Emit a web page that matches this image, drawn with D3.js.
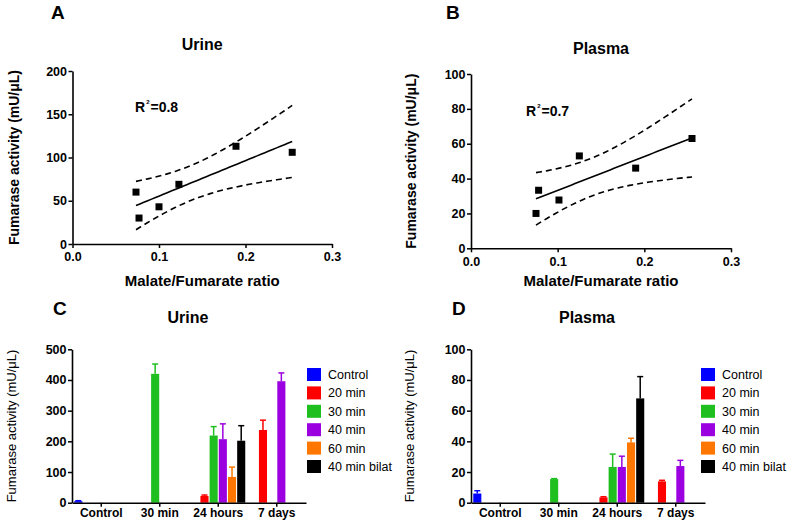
<!DOCTYPE html>
<html>
<head>
<meta charset="utf-8">
<script src="https://cdn.jsdelivr.net/npm/d3@7"></script>
<style>
  body { margin: 0; background: #fff; }
  text { font-family: "Liberation Sans", Arial, sans-serif; }
</style>
</head>
<body>
<div id="chart"></div>
<script>
// figure size
const width = 787;
const height = 523;

// scatter data
const urineRatio = [0.0734, 0.0769, 0.100, 0.123, 0.189, 0.254];
const urineActivity = [60, 30, 43, 69, 113, 106];
const plasmaRatio = [0.075, 0.078, 0.1015, 0.125, 0.190, 0.255];
const plasmaActivity = [20, 33.3, 27.7, 53, 46, 63];
const ratioTicks = [0.0, 0.1, 0.2, 0.3];

// bar data
const timepoints = ["Control", "30 min", "24 hours", "7 days"];
const groups = ["Control", "20 min", "30 min", "40 min", "60 min", "40 min bilat"];
const groupColors = ["#0000ff", "#ff0000", "#1fbf1f", "#9b00e0", "#ff7700", "#000000"];

// rows = timepoints, cols = groups (null = not measured)
const urineMeans = [
  [5, null, null, null, null, null],
  [null, null, 420, null, null, null],
  [null, 22, 219, 207, 84, 202],
  [null, 237, null, 396, null, null]
];
const urineErr = [
  [1.5, null, null, null, null, null],
  [null, null, 32, null, null, null],
  [null, 3, 29, 50, 32, 49],
  [null, 32, null, 27, null, null]
];
const plasmaMeans = [
  [6, null, null, null, null, null],
  [null, null, 15.4, null, null, null],
  [null, 3.5, 23.3, 23.3, 39.3, 68],
  [null, 13.9, null, 23.9, null, null]
];
const plasmaErr = [
  [1.8, null, null, null, null, null],
  [null, null, 0.3, null, null, null],
  [null, 0.4, 8.4, 7, 2.7, 14.2],
  [null, 0.7, null, 3.7, null, null]
];
const urineTicks = [0, 100, 200, 300, 400, 500];
const plasmaTicks = [0, 20, 40, 60, 80, 100];

const svg = d3.select("#chart")
  .append("svg")
  .attr("width", width)
  .attr("height", height);

// linear fit + 95% confidence band of the mean
function fit(xs, ys) {
  const n = xs.length;
  const mx = d3.mean(xs), my = d3.mean(ys);
  let sxx = 0, sxy = 0, syy = 0;
  for (let i = 0; i < n; i++) {
    sxx += (xs[i] - mx) ** 2;
    sxy += (xs[i] - mx) * (ys[i] - my);
    syy += (ys[i] - my) ** 2;
  }
  const slope = sxy / sxx;
  const icpt = my - slope * mx;
  const s = Math.sqrt((syy - slope * sxy) / (n - 2));
  const t = 2.776; // t(0.975, 4)
  return {
    f: x => icpt + slope * x,
    half: x => t * s * Math.sqrt(1 / n + (x - mx) ** 2 / sxx)
  };
}

function scatterPanel(o) {
  const x = d3.scaleLinear().domain([0, 0.3]).range([o.left, o.right]);
  const y = d3.scaleLinear().domain([0, o.ymax]).range([o.bottom, o.top]);
  const g = svg.append("g");

  g.append("g")
    .attr("transform", `translate(0,${o.bottom})`)
    .call(d3.axisBottom(x).tickValues(ratioTicks).tickFormat(d3.format(".1f")).tickSize(4).tickPadding(2).tickSizeOuter(0))
    .call(a => a.select(".domain").attr("stroke-width", 1.6))
    .call(a => a.selectAll(".tick line").attr("stroke-width", 1.5))
    .call(a => a.selectAll("text").attr("font-size", 12.5).attr("font-weight", "bold").attr("dy", "0.9em"));

  g.append("g")
    .attr("transform", `translate(${o.left},0)`)
    .call(d3.axisLeft(y).tickValues(o.yticks).tickSize(4).tickPadding(1.5).tickSizeOuter(0))
    .call(a => a.select(".domain").attr("stroke-width", 1.6))
    .call(a => a.selectAll(".tick line").attr("stroke-width", 1.5))
    .call(a => a.selectAll("text").attr("font-size", 12.5).attr("font-weight", "bold"));

  const fr = fit(o.xs, o.ys);
  const xr = d3.range(d3.min(o.xs), d3.max(o.xs) + 1e-9, (d3.max(o.xs) - d3.min(o.xs)) / 40);
  const line = d3.line().x(d => x(d[0])).y(d => y(d[1]));

  g.append("path")
    .attr("d", line(xr.map(v => [v, fr.f(v)])))
    .attr("fill", "none").attr("stroke", "#000").attr("stroke-width", 1.6);
  [1, -1].forEach(sg => {
    g.append("path")
      .attr("d", line(xr.map(v => [v, fr.f(v) + sg * fr.half(v)])))
      .attr("fill", "none").attr("stroke", "#000").attr("stroke-width", 1.6)
      .attr("stroke-dasharray", "6,4");
  });

  g.selectAll(".pt")
    .data(o.xs)
    .enter()
    .append("rect")
      .attr("x", (d) => x(d) - 3.5)
      .attr("y", (d, i) => y(o.ys[i]) - 3.5)
      .attr("width", 7)
      .attr("height", 7)
      .attr("fill", "#000");

  const r2 = g.append("text")
    .attr("x", o.r2x).attr("y", o.r2y)
    .attr("font-size", 14).attr("font-weight", "bold");
  r2.append("tspan").text("R");
  r2.append("tspan").text("2").attr("font-size", 6).attr("dy", -8).attr("dx", 1);
  r2.append("tspan").text(o.r2).attr("dy", 8).attr("dx", 1);

  g.append("text").text(o.letter)
    .attr("x", o.letterX).attr("y", 19)
    .attr("font-size", 19).attr("font-weight", "bold");
  g.append("text").text(o.title)
    .attr("x", (o.left + o.right) / 2).attr("y", o.titleY)
    .attr("text-anchor", "middle").attr("font-size", 16).attr("font-weight", "bold");
  g.append("text").text("Malate/Fumarate ratio")
    .attr("x", (o.left + o.right) / 2).attr("y", 286)
    .attr("text-anchor", "middle").attr("font-size", 15).attr("font-weight", "bold");
  g.append("text").text("Fumarase activity (mU/μL)")
    .attr("transform", `translate(${o.labelX},${(o.top + o.bottom) / 2}) rotate(-90)`)
    .attr("text-anchor", "middle").attr("font-size", 14).attr("font-weight", "bold");
}

function barPanel(o) {
  const x = d3.scaleBand().domain(timepoints).range([o.left, o.right]);
  const xi = d3.scaleBand().domain(groups).range([2.25, x.bandwidth() - 2.25]).paddingInner(0.12);
  const y = d3.scaleLinear().domain([0, o.ymax]).range([o.bottom, o.top]);
  const g = svg.append("g");

  const rows = [];
  timepoints.forEach((tp, i) => {
    groups.forEach((gr, j) => {
      if (o.means[i][j] !== null) {
        rows.push({ tp: tp, gr: gr, color: groupColors[j], v: o.means[i][j], e: o.err[i][j] });
      }
    });
  });

  // error bars (upper only)
  rows.forEach(d => {
    const cx = x(d.tp) + xi(d.gr) + xi.bandwidth() / 2;
    g.append("line")
      .attr("x1", cx).attr("x2", cx)
      .attr("y1", y(d.v)).attr("y2", y(d.v + d.e))
      .attr("stroke", d.color).attr("stroke-width", 1.5);
    g.append("line")
      .attr("x1", cx - 3).attr("x2", cx + 3)
      .attr("y1", y(d.v + d.e)).attr("y2", y(d.v + d.e))
      .attr("stroke", d.color).attr("stroke-width", 1.5);
  });

  g.selectAll(".bar")
    .data(rows)
    .enter()
    .append("rect")
      .attr("x", d => x(d.tp) + xi(d.gr))
      .attr("y", d => y(d.v))
      .attr("width", xi.bandwidth())
      .attr("height", d => o.bottom - y(d.v))
      .attr("fill", d => d.color);

  g.append("g")
    .attr("transform", `translate(0,${o.bottom})`)
    .call(d3.axisBottom(x).tickSize(4).tickPadding(1).tickSizeOuter(0))
    .call(a => a.select(".domain").attr("stroke-width", 1.6))
    .call(a => a.selectAll(".tick line").attr("stroke-width", 1.5))
    .call(a => a.selectAll("text").attr("font-size", 12).attr("font-weight", "bold").attr("dy", "0.75em"));

  g.append("g")
    .attr("transform", `translate(${o.left},0)`)
    .call(d3.axisLeft(y).tickValues(o.yticks).tickSize(4).tickPadding(1.5).tickSizeOuter(0))
    .call(a => a.select(".domain").attr("stroke-width", 1.6))
    .call(a => a.selectAll(".tick line").attr("stroke-width", 1.5))
    .call(a => a.selectAll("text").attr("font-size", 12.5).attr("font-weight", "bold"));

  // legend
  const lg = g.append("g").attr("transform", `translate(${o.legX},368)`);
  groups.forEach((gr, j) => {
    lg.append("rect")
      .attr("x", 0).attr("y", j * 18.4)
      .attr("width", 14).attr("height", 13)
      .attr("fill", groupColors[j]);
    lg.append("text").text(gr)
      .attr("x", 21).attr("y", j * 18.4 + 11)
      .attr("font-size", 12.5);
  });

  g.append("text").text(o.letter)
    .attr("x", o.letterX).attr("y", 315)
    .attr("font-size", 19).attr("font-weight", "bold");
  g.append("text").text(o.title)
    .attr("x", o.titleX).attr("y", 323)
    .attr("text-anchor", "middle").attr("font-size", 16).attr("font-weight", "bold");
  g.append("text").text("Fumarase activity (mU/μL)")
    .attr("transform", `translate(${o.labelX},${(o.top + o.bottom) / 2}) rotate(-90)`)
    .attr("text-anchor", "middle").attr("font-size", 13);
}

scatterPanel({
  left: 72.5, right: 332, top: 71, bottom: 244, ymax: 200,
  yticks: [0, 50, 100, 150, 200], xs: urineRatio, ys: urineActivity,
  r2: "=0.8", r2x: 135, r2y: 112, letter: "A", letterX: 51, title: "Urine", titleY: 50, labelX: 19
});
scatterPanel({
  left: 471, right: 731, top: 74, bottom: 248.3, ymax: 100,
  yticks: [0, 20, 40, 60, 80, 100], xs: plasmaRatio, ys: plasmaActivity,
  r2: "=0.7", r2x: 526, r2y: 116, letter: "B", letterX: 446, title: "Plasma", titleY: 54, labelX: 416
});
barPanel({
  left: 72, right: 306, top: 349.3, bottom: 502.7, ymax: 500, yticks: urineTicks,
  means: urineMeans, err: urineErr, legX: 307, letter: "C", letterX: 53,
  title: "Urine", titleX: 188, labelX: 16
});
barPanel({
  left: 471, right: 705, top: 349.3, bottom: 502.7, ymax: 100, yticks: plasmaTicks,
  means: plasmaMeans, err: plasmaErr, legX: 701, letter: "D", letterX: 452,
  title: "Plasma", titleX: 587, labelX: 414
});
</script>
</body>
</html>
